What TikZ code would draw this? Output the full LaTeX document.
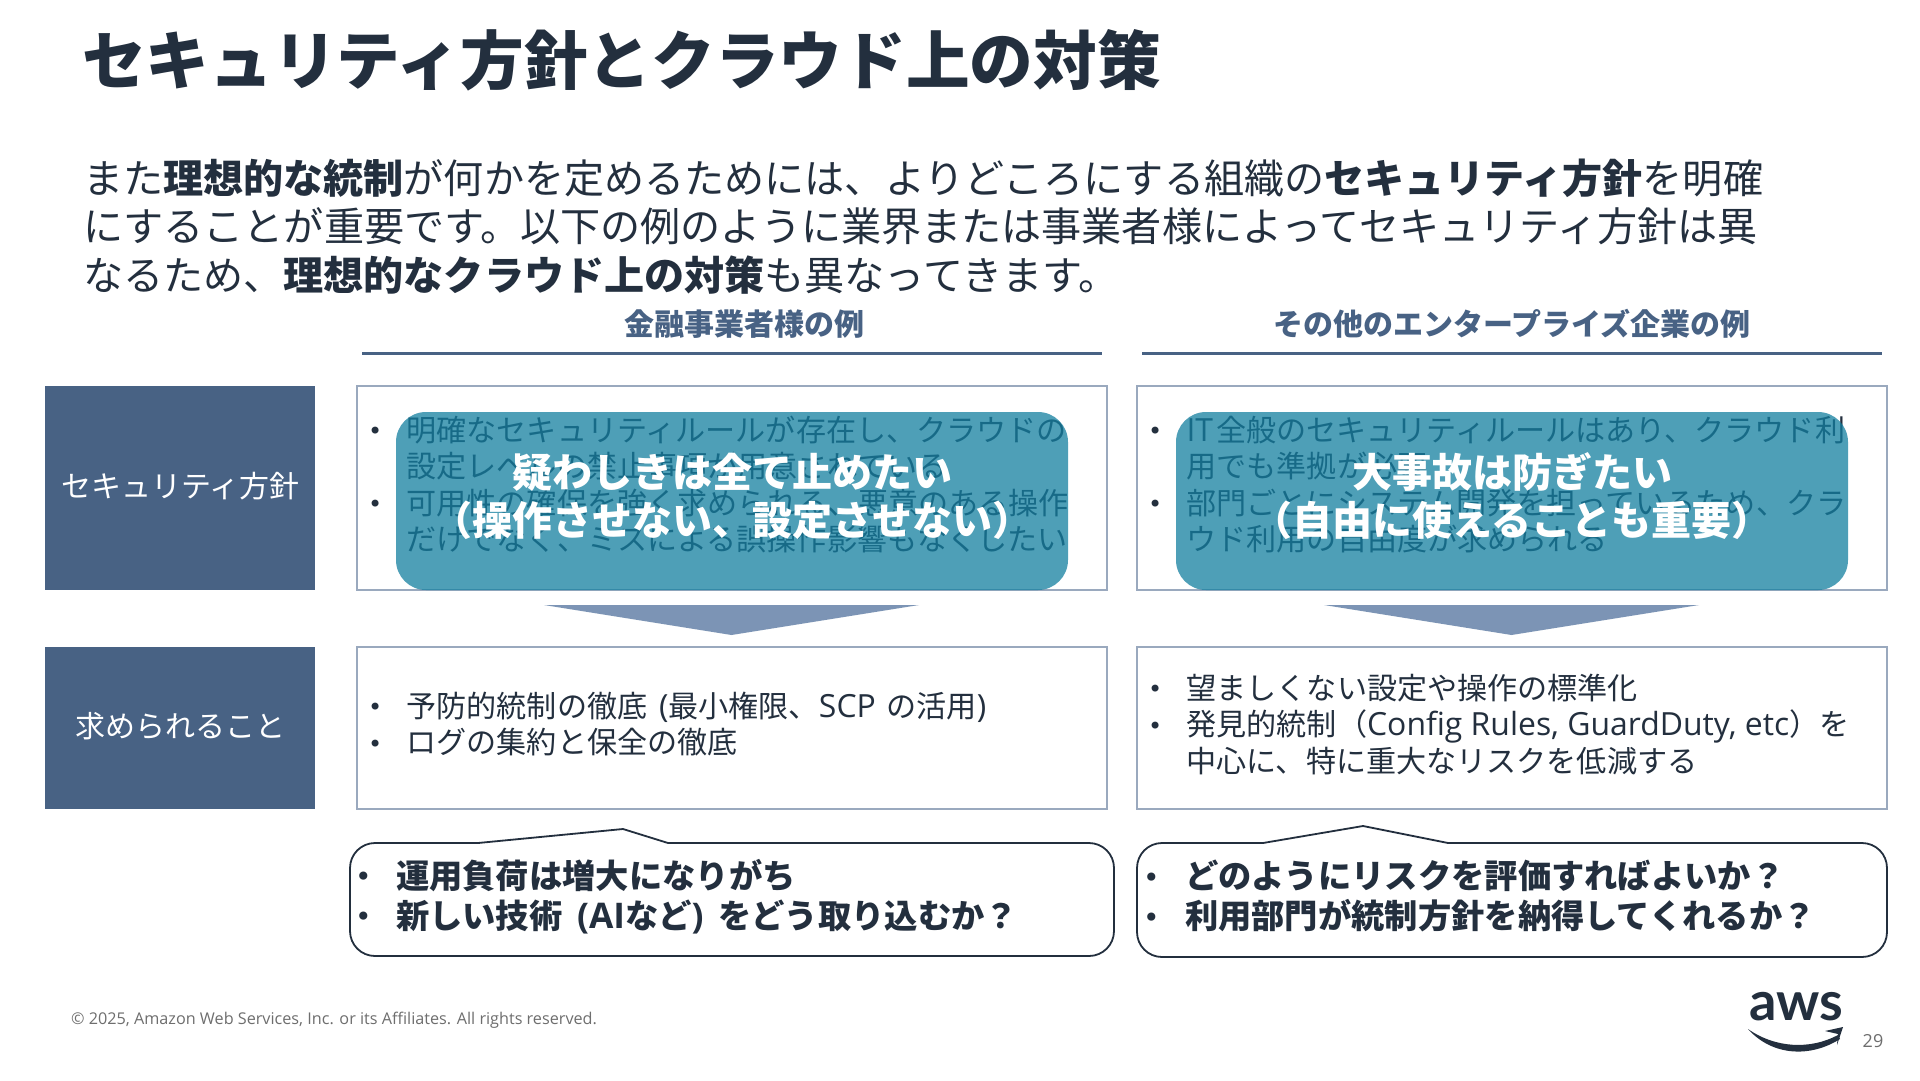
\documentclass[tikz,border=0pt]{standalone}
\usepackage{fontspec}
\setmainfont{Noto Sans CJK JP}
\newfontfamily\latinfoot{Open Sans}
\newfontfamily\lat[Scale=1.06]{Open Sans}
\newfontfamily\awsfont{Lato}
\newfontfamily\bulfont{DejaVu Sans}
\definecolor{ink}{HTML}{232F3E}
\definecolor{slate}{HTML}{486284}
\definecolor{boxline}{HTML}{9AA9BE}
\definecolor{tealfill}{HTML}{137FA0}
\definecolor{arrowfill}{HTML}{7C94B5}
\definecolor{footgrey}{HTML}{6E6E6E}
\newcommand{\bulitem}[2]{\makebox[#1pt][l]{\raisebox{1.5pt}{\bulfont\mdseries\fontsize{#2}{20}\selectfont •}}}
\tikzset{
  txt/.style={inner sep=0pt,outer sep=0pt,text=ink,align=left,anchor=west},
  rowtxt/.style={txt,font=\fontsize{30.1}{36.5}\selectfont},
  boldtxt/.style={txt,font=\fontsize{33.3}{40}\selectfont\bfseries},
  headtxt/.style={inner sep=0pt,text=slate,font=\fontsize{30}{34}\selectfont\bfseries},
  headrule/.style={draw=slate,line width=3pt},
  sidebox/.style={inner sep=0pt,fill=slate,text=white,minimum width=270.5pt,font=\fontsize{30}{36}\selectfont},
  rowbox/.style={inner sep=0pt,draw=boxline,line width=1.5pt,fill=white,minimum width=750pt},
  tealbox/.style={inner sep=0pt,fill=tealfill,fill opacity=.75,rounded corners=30pt,minimum width=672pt,minimum height=178pt},
  teallabel/.style={inner sep=0pt,text=white,align=center,font=\fontsize{40}{48}\selectfont\bfseries},
  downarrow/.style={fill=arrowfill},
  callout/.style={draw=ink,line width=1.8pt,fill=white},
}
\begin{document}
\begin{tikzpicture}[x=1pt,y=-1pt]
\useasboundingbox (0,0) rectangle (1920,1080);
\fill[white] (0,0) rectangle (1920,1080);

\node[txt,font=\fontsize{63.7}{70}\selectfont\bfseries] (title) at (82,60) {セキュリティ方針とクラウド上の対策};
\node[txt,font=\fontsize{40.1}{48.5}\selectfont] (lead) at (83,226.5) {また\textbf{理想的な統制}が何かを定めるためには、よりどころにする組織の\textbf{セキュリティ方針}を明確\\にすることが重要です。以下の例のように業界または事業者様によってセキュリティ方針は異\\なるため、\textbf{理想的なクラウド上の対策}も異なってきます。};

\node[headtxt] (headL) at (744,324) {金融事業者様の例};
\node[headtxt] (headR) at (1512,324) {その他のエンタープライズ企業の例};
\coordinate (ruleLa) at (362,353); \coordinate (ruleLb) at (1102,353);
\coordinate (ruleRa) at (1142,353); \coordinate (ruleRb) at (1882,353);
\draw[headrule] (ruleLa) -- (ruleLb);
\draw[headrule] (ruleRa) -- (ruleRb);

\node[sidebox,minimum height=204pt] (sideA) at (180.2,488) {\raisebox{6pt}{セキュリティ方針}};
\node[sidebox,minimum height=162pt] (sideB) at (180.2,728) {\raisebox{6pt}{求められること}};

\node[rowbox,minimum height=204pt] (boxLA) at (732,488) {};
\node[rowbox,minimum height=204pt] (boxRA) at (1512,488) {};
\node[rowbox,minimum height=162pt] (boxLB) at (732,728) {};
\node[rowbox,minimum height=162pt] (boxRB) at (1512,728) {};

\node[rowtxt] (txtLA) at (368,484.5) {\bulitem{38.5}{24}明確なセキュリティルールが存在し、クラウドの\\\hspace*{38.5pt}設定レベルの禁止事項が用意されている\\\bulitem{38.5}{24}可用性の確保を強く求められる、悪意のある操作\\\hspace*{38.5pt}だけでなく、ミスによる誤操作影響もなくしたい};
\node[rowtxt] (txtRA) at (1148,484.5) {\bulitem{38.5}{24}{\lat IT}\kern3pt 全般のセキュリティルールはあり、クラウド利\\\hspace*{38.5pt}用でも準拠が必要\\\bulitem{38.5}{24}部門ごとにシステム開発を担っているため、クラ\\\hspace*{38.5pt}ウド利用の自由度が求められる};
\node[rowtxt] (txtLB) at (368,724) {\bulitem{38.5}{24}予防的統制の徹底\kern5pt\ {\lat (}最小権限、{\lat SCP}\kern4pt\ の活用{\lat )}\\\bulitem{38.5}{24}ログの集約と保全の徹底};
\node[rowtxt] (txtRB) at (1148,724.5) {\bulitem{38.5}{24}望ましくない設定や操作の標準化\\\bulitem{38.5}{24}発見的統制（{\lat Config Rules, GuardDuty, etc}）を\\\hspace*{38.5pt}中心に、特に重大なリスクを低減する};

\node[tealbox] (tealL) at (732,501) {};
\node[tealbox] (tealR) at (1512,501) {};
\node[teallabel] (labelL) at (732,496) {疑わしきは全て止めたい\\（操作させない、設定させない）};
\node[teallabel] (labelR) at (1512,496) {大事故は防ぎたい\\（自由に使えることも重要）};

\fill[downarrow] (544,605) -- (919,605) -- (731.5,635) -- cycle;
\fill[downarrow] (1324,605) -- (1699,605) -- (1511.5,635) -- cycle;

\draw[callout,rounded corners=25pt] (350,956) -- (350,843) [sharp corners] -- (478,843) -- (623,829) -- (668,843) [rounded corners=25pt] -- (1114,843) -- (1114,956) -- cycle;
\draw[callout,rounded corners=25pt] (1137,957) -- (1137,843) [sharp corners] -- (1263,843) -- (1363,826) -- (1448,843) [rounded corners=25pt] -- (1887,843) -- (1887,957) -- cycle;

\node[boldtxt] (txtLC) at (355,896.5) {\bulitem{41}{28}運用負荷は増大になりがち\\\bulitem{41}{28}新しい技術\kern7pt\ {\lat (AI}など{\lat )}\kern7pt\ をどう取り込むか？};
\node[boldtxt] (txtRC) at (1143,896) {\bulitem{42}{28}どのようにリスクを評価すればよいか？\\\bulitem{42}{28}利用部門が統制方針を納得してくれるか？};

\node[inner sep=0pt,anchor=west,text=footgrey,font=\latinfoot\fontsize{16.2}{20}\selectfont] (foot) at (71,1020) {© 2025, Amazon Web Services, Inc. or its Affiliates. All rights reserved.};
\node[inner sep=0pt,text=footgrey,font=\latinfoot\fontsize{18}{20}\selectfont] (page) at (1873,1041) {29};
\node[inner sep=0pt,text=ink,font=\awsfont\bfseries\fontsize{54}{54}\selectfont] (aws) at (1796,1007) {aws};
\fill[ink] (1748,1029) .. controls (1775,1048) and (1810,1050) .. (1838,1035) -- (1840,1039) .. controls (1810,1058) and (1772,1056) .. cycle;
\fill[ink] (1825,1031) -- (1843,1027) -- (1837,1045) -- (1838,1034) -- cycle;
\end{tikzpicture}
\end{document}
